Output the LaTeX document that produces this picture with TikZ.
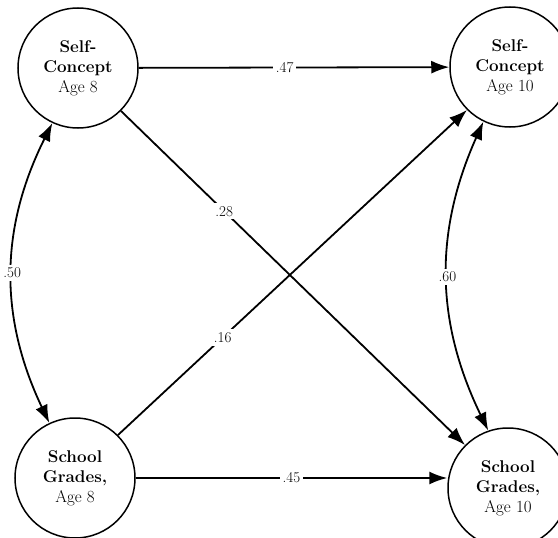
\documentclass[tikz,border=0pt]{standalone}
\usetikzlibrary{arrows.meta}

\begin{document}
\begin{tikzpicture}[x=1pt,y=-1pt,
        var/.style={draw,circle,line width=1.5pt,minimum size=120pt,inner sep=0pt,align=center,font=\fontsize{17}{20}\selectfont},
        effect/.style={line width=1.8pt,-{Latex[length=18pt,width=13pt]}},
        corr/.style={line width=1.8pt,{Latex[length=18pt,width=13pt]}-{Latex[length=18pt,width=13pt]}},
        coef/.style={fill=white,inner sep=3pt,font=\fontsize{15}{17}\selectfont}]
        \useasboundingbox (0,0) rectangle (558,538);
        \clip (0,0) rectangle (558,538);
        % the four variables
        \node[var] (sc8) at (78,68) {\textbf{Self-}\\\textbf{Concept}\\Age 8};
        \node[var] (sc10) at (510,67) {\textbf{Self-}\\\textbf{Concept}\\Age 10};
        \node[var] (sg8) at (75,478) {\textbf{School}\\\textbf{Grades,}\\Age 8};
        \node[var] (sg10) at (508,488) {\textbf{School}\\\textbf{Grades,}\\Age 10};
        % paths
        \draw[effect] (sc8) -- node[coef,pos=0.47] {.47} (sc10);
        \draw[effect] (sc8.-45) -- node[coef,pos=0.3] {.28} (sg10.135);
        \draw[effect] (sg8.45) -- node[coef,pos=0.3] {.16} (sc10.225);
        \draw[effect] (sg8.east) -- node[coef] {.45} (sg8.east -| sg10.west);
        % correlations
        \draw[corr] (sc8.245) to[bend right=26] node[coef] {.50} (sg8.115);
        \draw[corr] (sc10.244) to[bend right=25] node[coef] {.60} (sg10.109);
    \end{tikzpicture}
\end{document}
